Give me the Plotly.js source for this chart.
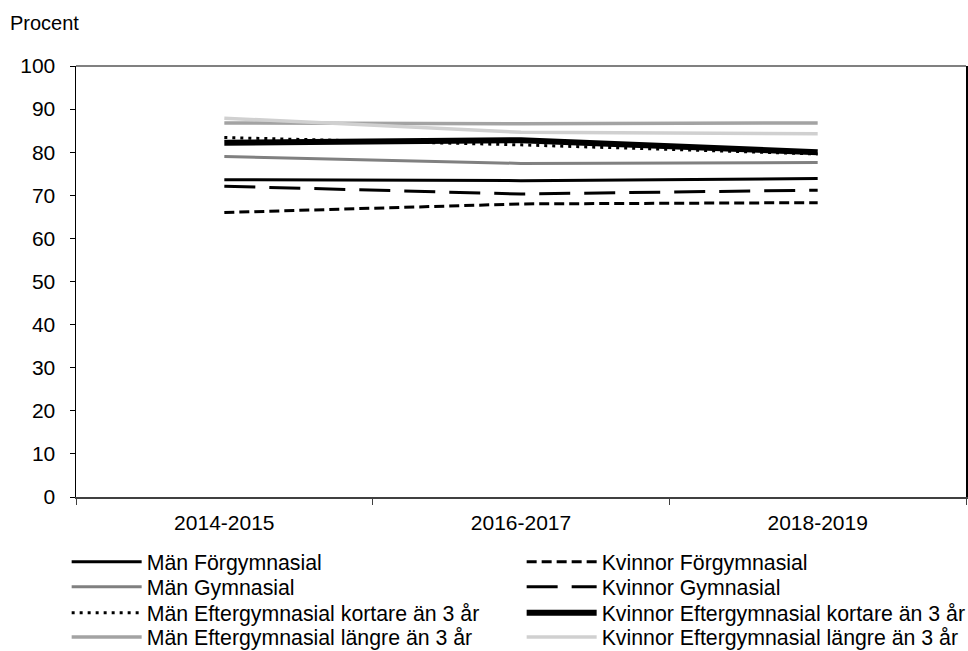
<!DOCTYPE html>
<html>
<head>
<meta charset="utf-8">
<script src="https://cdn.plot.ly/plotly-3.0.1.min.js"></script>
<style>
  html, body { margin: 0; padding: 0; background: #fff; }
  #chart { width: 968px; height: 651px; }
</style>
</head>
<body>
<div id="chart"></div>
<script>
// periods on the x axis
var years = ['2014-2015', '2016-2017', '2018-2019'];

// share in percent
var man_forgymn = [73.6, 73.4, 73.9];
var kv_forgymn = [66.0, 68.0, 68.3];
var man_gymn = [79.0, 77.4, 77.6];
var kv_gymn = [72.1, 70.3, 71.2];
var man_efter_kort = [83.4, 81.7, 79.6];
var kv_efter_kort = [82.2, 82.8, 80.0];
var man_efter_lang = [86.8, 86.6, 86.8];
var kv_efter_lang = [87.9, 84.6, 84.3];

var names = [
	'Män Förgymnasial', 'Kvinnor Förgymnasial',
	'Män Gymnasial', 'Kvinnor Gymnasial',
	'Män Eftergymnasial kortare än 3 år', 'Kvinnor Eftergymnasial kortare än 3 år',
	'Män Eftergymnasial längre än 3 år', 'Kvinnor Eftergymnasial längre än 3 år'
];
var series = [man_forgymn, kv_forgymn, man_gymn, kv_gymn, man_efter_kort, kv_efter_kort, man_efter_lang, kv_efter_lang];

// line look for each series, same order as names
var styles = [
	{color: '#000000', width: 3, dash: 'solid'},
	{color: '#000000', width: 3, dash: '10px,5px'},
	{color: '#808080', width: 3, dash: 'solid'},
	{color: '#000000', width: 3, dash: '31px,14px'},
	{color: '#000000', width: 3, dash: '3px,5px'},
	{color: '#000000', width: 6, dash: 'solid'},
	{color: '#a3a3a3', width: 3.5, dash: 'solid'},
	{color: '#d0d0d0', width: 3.5, dash: 'solid'}
];

// one legend per row, two entries in each
var legend_ids = ['legend', 'legend', 'legend2', 'legend2', 'legend3', 'legend3', 'legend4', 'legend4'];

var data = [];
for (var i = 0; i < series.length; i++) {
	data.push({
		x: years,
		y: series[i],
		name: names[i],
		legend: legend_ids[i],
		type: 'scatter',
		mode: 'lines',
		line: styles[i],
		hoverinfo: 'name+y'
	});
}

var font_family = '"Liberation Sans", Arial, sans-serif';

function legend_row(ypos) {
	return {
		orientation: 'h',
		x: -0.0105,
		xanchor: 'left',
		y: ypos,
		yanchor: 'middle',
		itemwidth: 70,
		entrywidth: 370,
		entrywidthmode: 'pixels',
		traceorder: 'normal',
		font: {family: font_family, size: 21.3, color: '#000000'},
		bgcolor: 'rgba(0,0,0,0)'
	};
}

var layout = {
	width: 968,
	height: 651,
	margin: {l: 76, r: 2, t: 66, b: 154, pad: 0, autoexpand: false},
	paper_bgcolor: '#ffffff',
	plot_bgcolor: '#ffffff',
	font: {family: font_family, size: 21, color: '#000000'},
	showlegend: true,
	legend: legend_row(-0.1508),
	legend2: legend_row(-0.2088),
	legend3: legend_row(-0.2692),
	legend4: legend_row(-0.3249),
	xaxis: {
		type: 'category',
		range: [-0.5, 2.5],
		showgrid: false,
		zeroline: false,
		showline: true,
		linecolor: '#404040',
		linewidth: 2,
		ticks: 'outside',
		tickson: 'boundaries',
		ticklen: 6,
		tickcolor: '#404040',
		ticklabelstandoff: 6
	},
	yaxis: {
		range: [0, 100],
		dtick: 10,
		showgrid: false,
		zeroline: false,
		showline: true,
		mirror: true,
		linecolor: '#000000',
		linewidth: 1.5,
		ticks: 'outside',
		ticklen: 5,
		tickcolor: '#000000',
		ticklabelstandoff: 10
	},
	shapes: [{
		type: 'line', xref: 'paper', yref: 'paper',
		x0: 0, x1: 1, y0: 1, y1: 1,
		line: {color: '#808080', width: 2}
	}],
	annotations: [{
		text: 'Procent',
		xref: 'paper', yref: 'paper',
		x: -0.0764, y: 1.0998,
		xanchor: 'left', yanchor: 'middle',
		showarrow: false,
		font: {family: font_family, size: 20, color: '#000000'}
	}]
};

Plotly.newPlot('chart', data, layout, {displayModeBar: false, staticPlot: true});
</script>
</body>
</html>
